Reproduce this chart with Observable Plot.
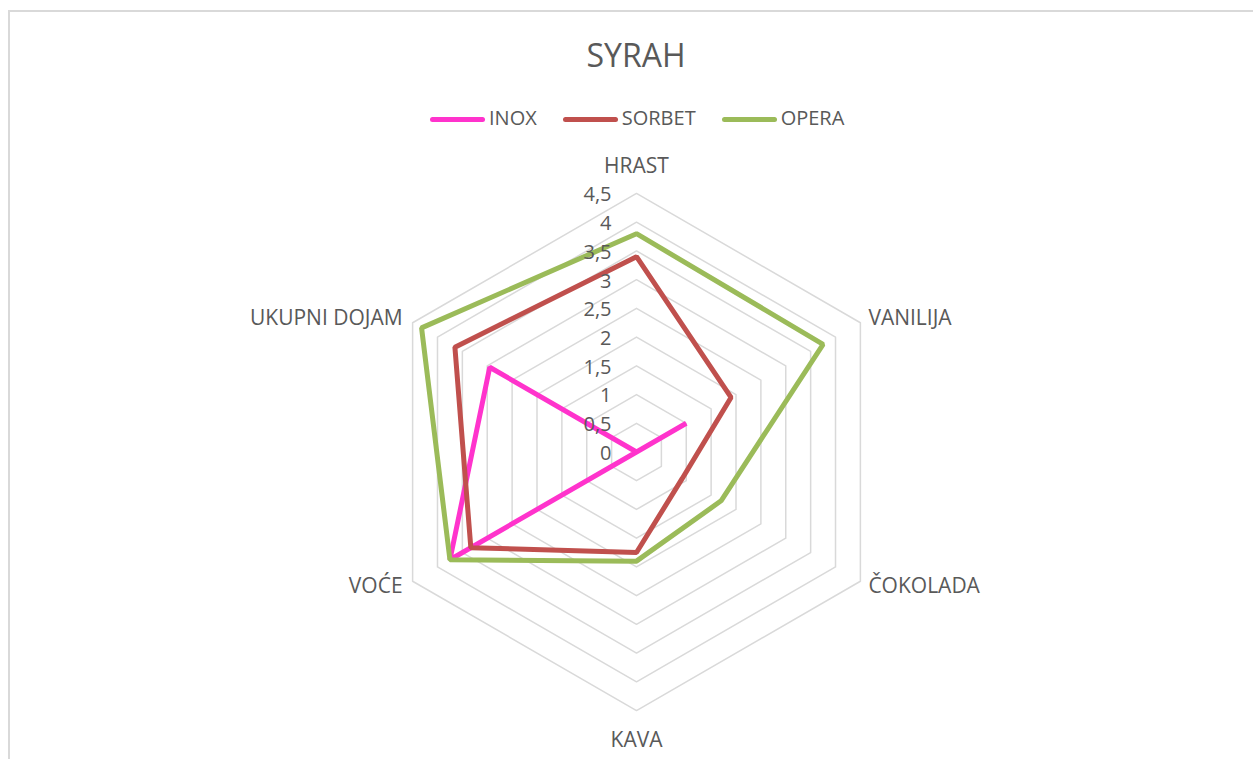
<!DOCTYPE html>
<html>
<head>
<meta charset="utf-8">
<script src="https://cdn.jsdelivr.net/npm/d3@7"></script>
<script src="https://cdn.jsdelivr.net/npm/@observablehq/plot@0.6"></script>
<style>
  html, body { margin: 0; padding: 0; background: #fff; }
  body { width: 1253px; height: 759px; position: relative; overflow: hidden; font-family: "Open Sans", sans-serif; color: #595959; }
  #chart { position: absolute; left: 0; top: 0; }
  #frame { position: absolute; left: 8px; top: 10px; width: 1300px; height: 800px; border-left: 2px solid #d9d9d9; border-top: 2px solid #d9d9d9; box-sizing: border-box; pointer-events: none; }
  #title { position: absolute; left: 0; width: 1272px; top: 39px; text-align: center; font-size: 32px; line-height: 32px; }
  .lg-line { position: absolute; height: 5px; border-radius: 3px; }
  .lg-text { position: absolute; font-size: 20px; line-height: 20px; white-space: nowrap; }
</style>
</head>
<body>
<div id="chart"></div>
<div id="frame"></div>
<div id="title">SYRAH</div>
<div id="legend"></div>
<script>
const categories = ["HRAST", "VANILIJA", "ČOKOLADA", "KAVA", "VOĆE", "UKUPNI DOJAM"];
const seriesNames = ["INOX", "SORBET", "OPERA"];
const seriesColors = ["#FF33CC", "#C0504D", "#9BBB59"];
const inox   = [0, 1.0, 0, 0, 3.75, 2.95];
const sorbet = [3.4, 1.9, 0.92, 1.75, 3.33, 3.65];
const opera  = [3.8, 3.75, 1.7, 1.9, 3.75, 4.32];
const ticks = [0, 0.5, 1, 1.5, 2, 2.5, 3, 3.5, 4, 4.5];

const W = 1253, H = 759;
const cx = 636, cy = 451.5, unit = 57.45;
const n = categories.length;
const ang = i => i * 2 * Math.PI / n;
const px = (r, i) => r * Math.sin(ang(i));
const py = (r, i) => r * Math.cos(ang(i));

const seriesValues = [inox, sorbet, opera];
const lines = [];
seriesNames.forEach((s, k) => {
  seriesValues[k].forEach((v, i) => lines.push({series: s, cat: categories[i], x: px(v, i), y: py(v, i)}));
});

const grid = [];
ticks.filter(t => t > 0).forEach(t => {
  categories.forEach((c, i) => grid.push({ring: t, x: px(t, i), y: py(t, i)}));
});

const rMax = ticks[ticks.length - 1];
const labelMarks = categories.map((c, i) => {
  const s = Math.sin(ang(i)), co = Math.cos(ang(i));
  let anchor = "middle", dx = 0, dy = 0;
  if (Math.abs(s) < 1e-6) { dy = co > 0 ? -27 : 30; }
  else { anchor = s > 0 ? "start" : "end"; dx = s > 0 ? 8 : -10; dy = co > 0 ? -4 : 5; }
  return Plot.text([{x: px(rMax, i), y: py(rMax, i), t: c}], {
    x: "x", y: "y", text: "t", textAnchor: anchor, dx, dy,
    fontSize: 21, fill: "#595959", fontFamily: "Open Sans"
  });
});

const plot = Plot.plot({
  width: W, height: H,
  marginTop: 0, marginRight: 0, marginBottom: 0, marginLeft: 0,
  style: {background: "transparent", fontFamily: "Open Sans", overflow: "visible"},
  x: {type: "linear", domain: [-cx / unit, (W - cx) / unit], range: [0, W], axis: null},
  y: {type: "linear", domain: [-(H - cy) / unit, cy / unit], range: [H, 0], axis: null},
  color: {domain: seriesNames, range: seriesColors},
  marks: [
    Plot.line(grid, {x: "x", y: "y", z: "ring", curve: "linear-closed", stroke: "#d9d9d9", strokeWidth: 1.5}),
    Plot.line(lines, {x: "x", y: "y", z: "series", stroke: "series", curve: "linear-closed", strokeWidth: 5, strokeLinejoin: "miter"}),
    Plot.text(ticks, {x: () => 0, y: d => d, text: d => String(d).replace(".", ","), textAnchor: "end", dx: -25, dy: 1.5, fontSize: 20, fill: "#595959", fontFamily: "Open Sans"}),
    ...labelMarks
  ]
});
document.getElementById("chart").appendChild(plot);

// legend
const legend = document.getElementById("legend");
const ctx = document.createElement("canvas").getContext("2d");
ctx.font = "20px 'Open Sans'";
let lx = 430;
seriesNames.forEach((s, k) => {
  const ln = document.createElement("div");
  ln.className = "lg-line";
  ln.style.left = lx + "px"; ln.style.top = "116.5px"; ln.style.width = "55px";
  ln.style.background = seriesColors[k];
  legend.appendChild(ln);
  lx += 59;
  const tx = document.createElement("div");
  tx.className = "lg-text";
  tx.style.left = lx + "px"; tx.style.top = "108px";
  tx.textContent = s;
  legend.appendChild(tx);
  lx += ctx.measureText(s).width + 26;
});
</script>
</body>
</html>
